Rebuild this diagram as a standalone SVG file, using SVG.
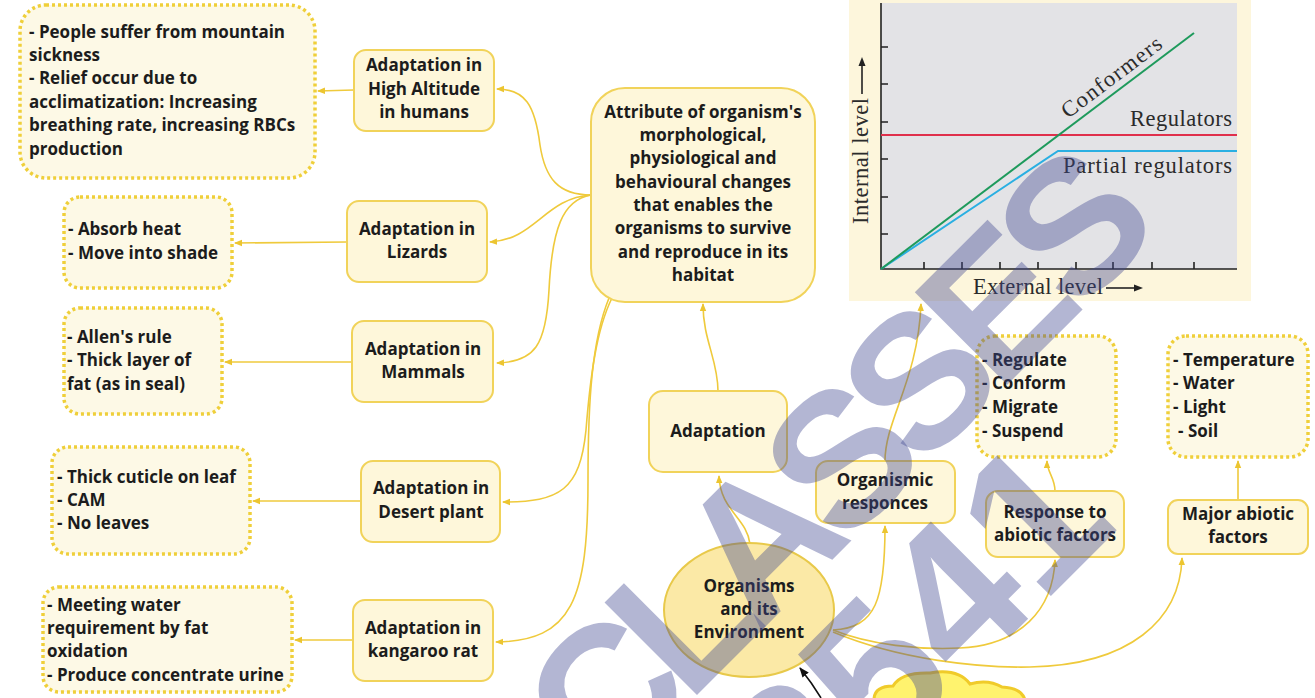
<svg xmlns="http://www.w3.org/2000/svg" width="1315" height="698" viewBox="0 0 1315 698">
  <defs>
    <marker id="arr" markerWidth="8" markerHeight="8" refX="7" refY="4" orient="auto" markerUnits="userSpaceOnUse">
      <path d="M0,0.8 L8,4 L0,7.2 z" fill="#ecc530"/>
    </marker>
    <marker id="arrK" markerWidth="10" markerHeight="10" refX="9" refY="5" orient="auto" markerUnits="userSpaceOnUse">
      <path d="M0,1 L10,5 L0,9 z" fill="#111"/>
    </marker>
    <style>
      .node rect { fill: #fef7da; stroke: #f1d35a; stroke-width: 2; }
      .note rect { fill: #fdf9e6; stroke: #efcf3a; stroke-width: 3.5; stroke-dasharray: 3 3; }
      .t { font-family: "Open Sans", "DejaVu Sans", sans-serif; font-weight: 700; font-size: 17px; fill: #1c1c1c; }
      .c { text-anchor: middle; }
      .link { fill: none; stroke: #efca3c; stroke-width: 1.6; marker-end: url(#arr); }
      .g { font-family: "Liberation Serif", "DejaVu Serif", serif; font-size: 22.5px; fill: #2b2b2b; }
      .wm { font-family: "Liberation Sans", Arial, sans-serif; font-weight: 700; fill: #414891; fill-opacity: 0.4; }
    </style>
  </defs>

  <rect width="1315" height="698" fill="#ffffff"/>

  <!-- response curves chart -->
  <g id="chart">
    <rect x="849" y="0" width="402" height="301" fill="#fdf6dc"/>
    <rect x="881" y="3" width="356" height="266" fill="#e3e3e6"/>
    <g stroke="#222" stroke-width="1.6" fill="none">
      <path d="M881,3 V269 H1237"/>
      <path d="M881,47 h7 M881,84 h7 M881,122 h7 M881,159 h7 M881,197 h7 M881,234 h7"/>
      <path d="M924,269 v-7 M962,269 v-7 M1000,269 v-7 M1038,269 v-7 M1076,269 v-7 M1113,269 v-7 M1152,269 v-7 M1194,269 v-7"/>
    </g>
    <line x1="881" y1="135" x2="1237" y2="135" stroke="#e0304c" stroke-width="2"/>
    <polyline points="881,269 1058,151 1237,151" fill="none" stroke="#2aafe2" stroke-width="2"/>
    <line x1="881" y1="269" x2="1194" y2="33" stroke="#1e9a5c" stroke-width="2"/>
    <text class="g" transform="translate(1068,119) rotate(-37)" textLength="120">Conformers</text>
    <text class="g" x="1130" y="126" textLength="102">Regulators</text>
    <text class="g" x="1063" y="173" textLength="169">Partial regulators</text>
    <text class="g" x="973" y="294" textLength="130">External level</text>
    <path d="M1106,288 H1136" stroke="#222" stroke-width="1.6"/>
    <path d="M1134,284.5 L1143,288 L1134,291.5 z" fill="#222"/>
    <text class="g" transform="translate(868,224) rotate(-90)" textLength="126">Internal level</text>
    <path d="M862,94 V64" stroke="#222" stroke-width="1.6"/>
    <path d="M858.5,66 L862,57 L865.5,66 z" fill="#222"/>
  </g>

  <!-- connectors -->
  <g id="connectors">
    <path class="link" d="M591,195 C558,195 545,178 540,145 C535,105 525,89 497,89"/>
    <path class="link" d="M591,195 C545,198 535,240 490,242"/>
    <path class="link" d="M591,195 C562,200 552,230 549,290 C546,345 535,362 497,363"/>
    <path class="link" d="M612,298 C596,330 590,380 586,430 C580,490 560,502 503,502"/>
    <path class="link" d="M609,298 C592,340 588,400 588,480 C588,600 572,641 496,642"/>
    <path class="link" d="M354,90 L318,91"/>
    <path class="link" d="M347,242 L235,243"/>
    <path class="link" d="M352,362 L225,362"/>
    <path class="link" d="M361,501 L253,501"/>
    <path class="link" d="M353,640 L295,640"/>
    <path class="link" d="M718,391 C718,360 703,340 703,304"/>
    <path class="link" d="M750,544 C747,518 720,510 719,476"/>
    <path class="link" d="M833,630 C876,628 885,600 885,526"/>
    <path class="link" d="M885,461 C885,420 918,380 921,304"/>
    <path class="link" d="M833,630 C870,645 920,650 960,648 C1020,645 1053,610 1055,560"/>
    <path class="link" d="M833,632 C900,660 980,668 1030,667 C1130,665 1180,620 1182,558"/>
    <path class="link" d="M1055,491 C1055,478 1047,472 1047,461"/>
    <path class="link" d="M1238,500 L1238,461"/>
    <path d="M821,698 C815,688 808,678 800,668" fill="none" stroke="#111" stroke-width="1.6" marker-end="url(#arrK)"/>
  </g>

  <!-- nodes -->
  <g id="n-mountain" class="note">
    <rect x="20" y="5" width="295" height="173" rx="26"/>
    <text class="t" x="29" y="38">- People suffer from mountain</text>
    <text class="t" x="29" y="61">sickness</text>
    <text class="t" x="29" y="84">- Relief occur due to</text>
    <text class="t" x="29" y="108">acclimatization: Increasing</text>
    <text class="t" x="29" y="131">breathing rate, increasing RBCs</text>
    <text class="t" x="29" y="155">production</text>
  </g>
  <g id="n-altitude" class="node">
    <rect x="354" y="50" width="140" height="81" rx="12"/>
    <text class="t c" x="424" y="71">Adaptation in</text>
    <text class="t c" x="424" y="95">High Altitude</text>
    <text class="t c" x="424" y="118">in humans</text>
  </g>
  <g id="n-attribute" class="node">
    <rect x="591" y="88" width="224" height="214" rx="34"/>
    <text class="t c" x="703" y="118">Attribute of organism's</text>
    <text class="t c" x="703" y="141">morphological,</text>
    <text class="t c" x="703" y="164">physiological and</text>
    <text class="t c" x="703" y="188">behavioural changes</text>
    <text class="t c" x="703" y="211">that enables the</text>
    <text class="t c" x="703" y="234">organisms to survive</text>
    <text class="t c" x="703" y="258">and reproduce in its</text>
    <text class="t c" x="703" y="281">habitat</text>
  </g>
  <g id="n-lizards-note" class="note">
    <rect x="64" y="197" width="168" height="91" rx="16"/>
    <text class="t" x="68" y="235">- Absorb heat</text>
    <text class="t" x="68" y="259">- Move into shade</text>
  </g>
  <g id="n-lizards" class="node">
    <rect x="347" y="201" width="140" height="81" rx="12"/>
    <text class="t c" x="417" y="235">Adaptation in</text>
    <text class="t c" x="417" y="258">Lizards</text>
  </g>
  <g id="n-mammals-note" class="note">
    <rect x="64" y="308" width="158" height="106" rx="16"/>
    <text class="t" x="67" y="343">- Allen's rule</text>
    <text class="t" x="67" y="366">- Thick layer of</text>
    <text class="t" x="67" y="390">fat (as in seal)</text>
  </g>
  <g id="n-mammals" class="node">
    <rect x="352" y="321" width="141" height="81" rx="12"/>
    <text class="t c" x="423" y="355">Adaptation in</text>
    <text class="t c" x="423" y="378">Mammals</text>
  </g>
  <g id="n-desert-note" class="note">
    <rect x="52" y="447" width="198" height="107" rx="16"/>
    <text class="t" x="57" y="483">- Thick cuticle on leaf</text>
    <text class="t" x="57" y="506">- CAM</text>
    <text class="t" x="57" y="529">- No leaves</text>
  </g>
  <g id="n-desert" class="node">
    <rect x="361" y="461" width="139" height="81" rx="12"/>
    <text class="t c" x="431" y="494">Adaptation in</text>
    <text class="t c" x="431" y="518">Desert plant</text>
  </g>
  <g id="n-kangaroo-note" class="note">
    <rect x="43" y="587" width="249" height="105" rx="16"/>
    <text class="t" x="47" y="611">- Meeting water</text>
    <text class="t" x="47" y="634">requirement by fat</text>
    <text class="t" x="47" y="657">oxidation</text>
    <text class="t" x="47" y="681">- Produce concentrate urine</text>
  </g>
  <g id="n-kangaroo" class="node">
    <rect x="353" y="600" width="140" height="81" rx="12"/>
    <text class="t c" x="423" y="634">Adaptation in</text>
    <text class="t c" x="423" y="657">kangaroo rat</text>
  </g>
  <g id="n-adaptation" class="node">
    <rect x="649" y="391" width="138" height="81" rx="14"/>
    <text class="t c" x="718" y="437">Adaptation</text>
  </g>
  <g id="n-responces" class="node">
    <rect x="816" y="461" width="139" height="62" rx="12"/>
    <text class="t c" x="885" y="486">Organismic</text>
    <text class="t c" x="885" y="509">responces</text>
  </g>
  <g id="n-environment">
    <ellipse cx="749" cy="610" rx="85" ry="67" fill="#fbe9a6" stroke="#e8c94a" stroke-width="2"/>
    <text class="t c" x="749" y="592">Organisms</text>
    <text class="t c" x="749" y="615">and its</text>
    <text class="t c" x="749" y="638">Environment</text>
  </g>
  <g id="n-regulate-note" class="note">
    <rect x="977" y="336" width="139" height="121" rx="18"/>
    <text class="t" x="982" y="366">- Regulate</text>
    <text class="t" x="982" y="389">- Conform</text>
    <text class="t" x="982" y="413">- Migrate</text>
    <text class="t" x="982" y="437">- Suspend</text>
  </g>
  <g id="n-response" class="node">
    <rect x="986" y="491" width="138" height="66" rx="12"/>
    <text class="t c" x="1055" y="518">Response to</text>
    <text class="t c" x="1055" y="541">abiotic factors</text>
  </g>
  <g id="n-factors-note" class="note">
    <rect x="1168" y="336" width="140" height="121" rx="18"/>
    <text class="t" x="1173" y="366">- Temperature</text>
    <text class="t" x="1173" y="389">- Water</text>
    <text class="t" x="1173" y="413">- Light</text>
    <text class="t" x="1178" y="437">- Soil</text>
  </g>
  <g id="n-major" class="node">
    <rect x="1168" y="500" width="140" height="54" rx="10"/>
    <text class="t c" x="1238" y="520">Major abiotic</text>
    <text class="t c" x="1238" y="543">factors</text>
  </g>
  <g id="n-cloud">
    <path d="M874,700 Q874,686 893,686 Q901,672 930,673 Q958,668 970,684 Q988,679 1002,687 Q1022,688 1025,700 Z" fill="#fff36e" stroke="#f0cb2a" stroke-width="3"/>
  </g>

  <!-- overlay lettering -->
  <g id="overlay">
    <text class="wm" font-size="190" letter-spacing="-17" transform="translate(603,789) rotate(-45)">CLASSES</text>
    <text class="wm" font-size="200" transform="translate(806,841) rotate(-45)">8541</text>
  </g>
</svg>
